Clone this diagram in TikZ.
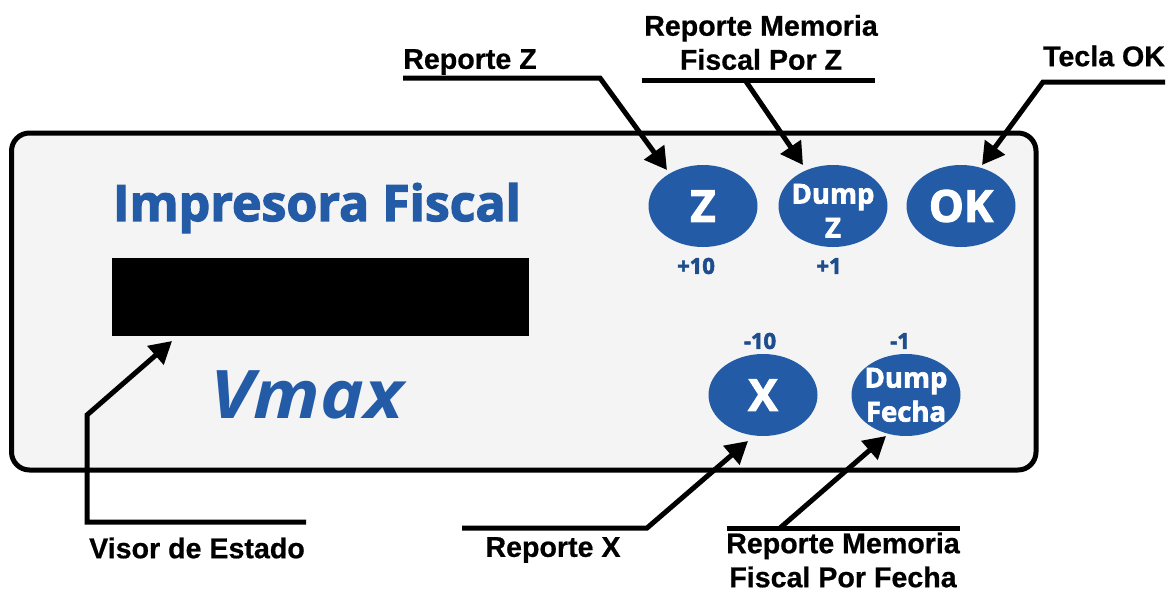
\documentclass[tikz,border=0pt]{standalone}
\usepackage{graphicx}
\usepackage{fontspec}
\setmainfont{Liberation Sans}[BoldFeatures={FakeBold=0.6}]
\newfontfamily\brandfont{Open Sans}[BoldFont={Open Sans Bold},BoldFeatures={FakeBold=2.5}]
\usetikzlibrary{arrows.meta,shapes.geometric}
\definecolor{brand}{HTML}{235BA6}
\definecolor{panelbg}{HTML}{F4F4F4}
\newcommand\btnlines[3]{\makebox[0pt]{\smash{\raisebox{#1}{\begin{tabular}{@{}c@{}}#2\\#3\end{tabular}}}}}
\tikzset{
 callout/.style={font=\bfseries\fontsize{28.6}{34}\selectfont,align=center,text=black,inner sep=0pt},
 btn/.style={ellipse,fill=brand,minimum width=109pt,minimum height=82pt,inner sep=0pt,text=white,align=center},
 btnbig/.style={btn,font=\brandfont\bfseries\fontsize{44}{44}\selectfont},
 btnsmall/.style={btn,font=\brandfont\bfseries\fontsize{27.5}{34}\selectfont},
 small/.style={font=\brandfont\bfseries\fontsize{22}{22}\selectfont,text=brand!85!black,inner sep=0pt},
 leader/.style={line width=5pt,draw=black,miter limit=10},
 arrowed/.style={leader,-{Triangle[length=22pt,width=24pt]}},
}
\begin{document}
\begin{tikzpicture}[x=1pt,y=-1pt]
\useasboundingbox (0,0) rectangle (1169,592);
\draw[line width=5pt,fill=panelbg,rounded corners=18pt] (11.5,133) rectangle (1036,470);
\node[fill=black,minimum width=417pt,minimum height=78pt,inner sep=0pt] (visor) at (320.5,297) {};
\node[font=\brandfont\bfseries\fontsize{50}{50}\selectfont,text=brand,inner sep=0pt] (title) at (317,208) {Impresora Fiscal};
\node[font=\brandfont\bfseries\itshape\fontsize{67}{67}\selectfont,text=brand,inner sep=0pt] (vmax) at (307,395) {\scalebox{1.1}[1]{Vmax}};
\node[btnbig] (z) at (703,206) {Z};
\node[btnsmall] (dz) at (833,206) {\btnlines{-14pt}{Dump}{Z}};
\node[btnbig] (ok) at (961,206) {OK};
\node[btnbig] (x) at (763,395) {X};
\node[btnsmall] (df) at (906,395) {\btnlines{-9pt}{Dump}{Fecha}};
\node[small] (p10) at (696,266) {+10};
\node[small] (p1) at (829,266) {+1};
\node[small] (m10) at (760,341) {-10};
\node[small] (m1) at (900,341) {-1};
\node[callout] (lz) at (470,62) {Reporte Z};
\node[callout] (lmz) at (761,42.5) {Reporte Memoria\\Fiscal Por Z};
\node[callout] (lok) at (1104,56) {Tecla OK};
\node[callout] (lv) at (197,548) {Visor de Estado};
\node[callout] (lx) at (553,550) {Reporte X};
\node[callout] (lmf) at (843,560) {Reporte Memoria\\Fiscal Por Fecha};
% shelves
\coordinate (za) at (403,78); \coordinate (zb) at (600,78); \coordinate (zt) at (667,170);
\coordinate (mza) at (642,80); \coordinate (mzb) at (875,80); \coordinate (mzs) at (745,80); \coordinate (mzt) at (803,165);
\coordinate (oka) at (1165,82); \coordinate (okb) at (1043,82); \coordinate (okt) at (982,165);
\coordinate (va) at (306,522); \coordinate (vb) at (87,522); \coordinate (vc) at (87,415); \coordinate (vt) at (172,341);
\coordinate (xa) at (462,528); \coordinate (xb) at (647,528); \coordinate (xt) at (748,441);
\coordinate (fa) at (727,528); \coordinate (fb) at (960,528); \coordinate (fs) at (780,528); \coordinate (ft) at (886,436);
\draw[arrowed] (za) -- (zb) -- (zt);
\draw[leader] (mza) -- (mzb);
\draw[arrowed] (mzs) -- (mzt);
\draw[arrowed] (oka) -- (okb) -- (okt);
\draw[arrowed] (va) -- (vb) -- (vc) -- (vt);
\draw[arrowed] (xa) -- (xb) -- (xt);
\draw[leader] (fa) -- (fb);
\draw[arrowed] (fs) -- (ft);
\end{tikzpicture}
\end{document}
